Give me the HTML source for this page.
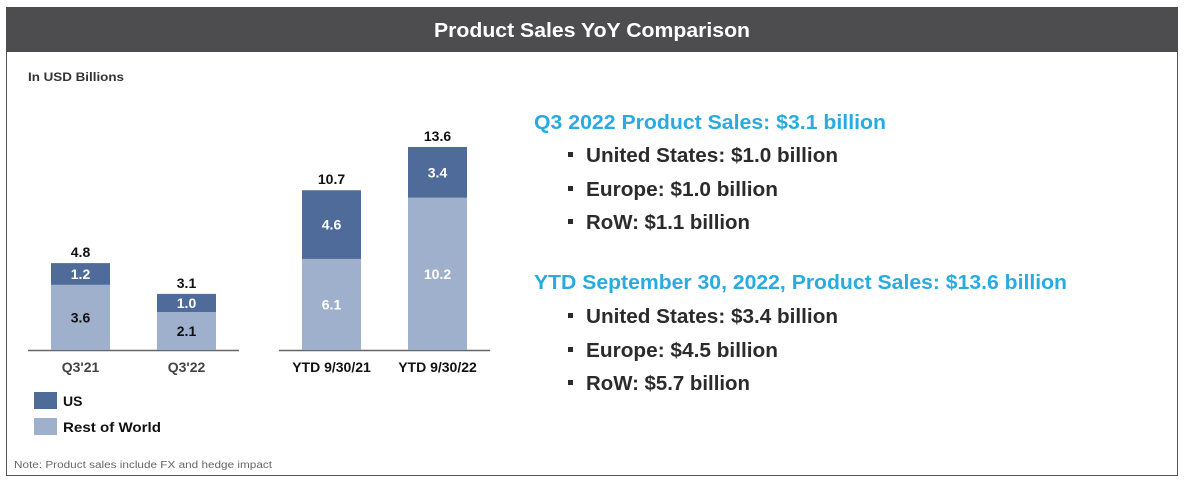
<!DOCTYPE html>
<html><head><meta charset="utf-8"><style>
body{margin:0;background:#fff}
svg{display:block;font-family:"Liberation Sans",sans-serif}
</style></head><body>
<svg id="c" width="1184" height="486" viewBox="0 0 1184 486">
<rect x="6.5" y="7.5" width="1171" height="468" fill="#fff" stroke="#555" stroke-width="1"/>
<rect x="6" y="7" width="1172" height="45" fill="#4d4d4f"/>
<text x="592" y="37" text-anchor="middle" fill="#fff" font-size="20" font-weight="bold" textLength="316" lengthAdjust="spacingAndGlyphs">Product Sales YoY Comparison</text>
<text x="28" y="81" fill="#333" font-size="12" font-weight="bold" textLength="96" lengthAdjust="spacingAndGlyphs">In USD Billions</text>
<line x1="28" y1="350.5" x2="239" y2="350.5" stroke="#666" stroke-width="1.5"/>
<line x1="279" y1="350.5" x2="490" y2="350.5" stroke="#666" stroke-width="1.5"/>
<g id="bars"></g>
<rect x="34" y="392" width="23" height="17" fill="#4e6b9a"/>
<text x="63" y="406" font-size="14" font-weight="bold" fill="#111">US</text>
<rect x="34" y="418" width="23" height="17" fill="#9eb0cc"/>
<text x="63" y="432" font-size="14" font-weight="bold" fill="#111" textLength="98" lengthAdjust="spacingAndGlyphs">Rest of World</text>
<text x="14" y="468" font-size="10" fill="#666" textLength="258" lengthAdjust="spacingAndGlyphs">Note: Product sales include FX and hedge impact</text>
<g font-size="20" font-weight="bold">
<text x="534" y="129" fill="#29abe2" textLength="352" lengthAdjust="spacingAndGlyphs">Q3 2022 Product Sales: $3.1 billion</text>
<rect x="568" y="152" width="5" height="5" fill="#2b2b2b"/>
<text x="586" y="162" fill="#2b2b2b" textLength="252" lengthAdjust="spacingAndGlyphs">United States: $1.0 billion</text>
<rect x="568" y="186" width="5" height="5" fill="#2b2b2b"/>
<text x="586" y="196" fill="#2b2b2b" textLength="192" lengthAdjust="spacingAndGlyphs">Europe: $1.0 billion</text>
<rect x="568" y="219" width="5" height="5" fill="#2b2b2b"/>
<text x="586" y="229" fill="#2b2b2b" textLength="164" lengthAdjust="spacingAndGlyphs">RoW: $1.1 billion</text>
<text x="534" y="289" fill="#29abe2" textLength="533" lengthAdjust="spacingAndGlyphs">YTD September 30, 2022, Product Sales: $13.6 billion</text>
<rect x="568" y="313" width="5" height="5" fill="#2b2b2b"/>
<text x="586" y="323" fill="#2b2b2b" textLength="252" lengthAdjust="spacingAndGlyphs">United States: $3.4 billion</text>
<rect x="568" y="347" width="5" height="5" fill="#2b2b2b"/>
<text x="586" y="357" fill="#2b2b2b" textLength="192" lengthAdjust="spacingAndGlyphs">Europe: $4.5 billion</text>
<rect x="568" y="380" width="5" height="5" fill="#2b2b2b"/>
<text x="586" y="390" fill="#2b2b2b" textLength="164" lengthAdjust="spacingAndGlyphs">RoW: $5.7 billion</text>
</g>
</svg>
<script>
const categories = ["Q3'21", "Q3'22", "YTD 9/30/21", "YTD 9/30/22"];
const rowValues = [3.6, 2.1, 6.1, 10.2];
const usValues = [1.2, 1.0, 4.6, 3.4];
const totalLabels = ["4.8", "3.1", "10.7", "13.6"];
const rowLabels = ["3.6", "2.1", "6.1", "10.2"];
const usLabels = ["1.2", "1.0", "4.6", "3.4"];

const NS = "http://www.w3.org/2000/svg";
const g = document.getElementById('bars');
const baseY = 350;
function yScale(i, v) { return baseY - v * (i < 2 ? 18.1 : 14.93); }
function xCenter(i) { return [80.5, 186.5, 331.5, 437.5][i]; }
const barW = 59;
function mk(tag, attrs) { const e = document.createElementNS(NS, tag); for (const k in attrs) e.setAttribute(k, attrs[k]); g.appendChild(e); return e; }
categories.forEach((c, i) => {
  const cx = xCenter(i);
  const yRow = yScale(i, rowValues[i]);
  const yTop = yScale(i, rowValues[i] + usValues[i]);
  const r1 = mk('rect', {x: cx - barW/2, y: yRow, width: barW, height: baseY - yRow, fill: '#9eb0cc'});
  
  
  const r2 = mk('rect', {x: cx - barW/2, y: yTop, width: barW, height: yRow - yTop, fill: '#4e6b9a'});
  
  
  const dark = i < 2;
  const t1 = mk('text', {x: cx, y: (yRow + baseY)/2 + 5, 'text-anchor': 'middle', 'font-size': 14, 'font-weight': 'bold', fill: dark ? '#111' : '#fff'});
  t1.textContent = rowLabels[i];
  
  
  const t2 = mk('text', {x: cx, y: (yTop + yRow)/2 + 5, 'text-anchor': 'middle', 'font-size': 14, 'font-weight': 'bold', fill: '#fff'});
  t2.textContent = usLabels[i];
  
  
  const t3 = mk('text', {x: cx, y: yTop - 6, 'text-anchor': 'middle', 'font-size': 14, 'font-weight': 'bold', fill: '#111'});
  t3.textContent = totalLabels[i];
  
  
  const t4 = mk('text', {x: cx, y: 372, 'text-anchor': 'middle', 'font-size': 14, 'font-weight': 'bold', fill: dark ? '#444' : '#111'});
  t4.textContent = c;
  
  
});
</script>
</body></html>
